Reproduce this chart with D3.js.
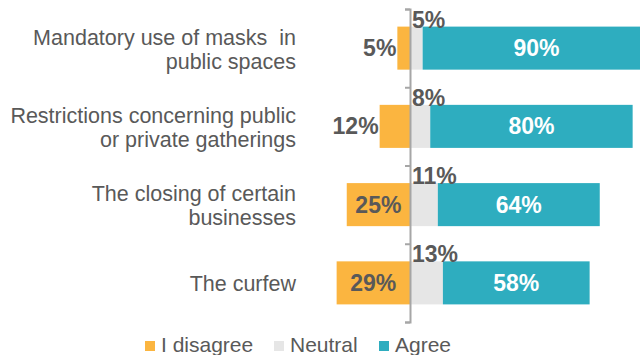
<!DOCTYPE html>
<html>
<head>
<meta charset="utf-8">
<script src="https://cdn.jsdelivr.net/npm/d3@7"></script>
<style>
  html, body { margin: 0; padding: 0; background: #fff; }
  svg { display: block; font-family: "Liberation Sans", Arial, sans-serif; }
  .cat { white-space: pre; }
</style>
</head>
<body>
<svg id="chart" width="640" height="355"></svg>
<script>
// Survey: support for COVID-19 measures
const categories = [
  ["Mandatory use of masks  in", "public spaces"],
  ["Restrictions concerning public", "or private gatherings"],
  ["The closing of certain", "businesses"],
  ["The curfew"]
];
const disagree = [5, 12, 25, 29];
const neutral  = [5, 8, 11, 13];
const agree    = [90, 80, 64, 58];
const legendLabels = ["I disagree", "Neutral", "Agree"];

const colors = { disagree: "#FBB540", neutral: "#E6E6E6", agree: "#2EADBF" };
const textColor = "#595959";

const svg = d3.select("#chart");
const keys = categories.map((c, i) => i);

const y = d3.scaleBand().domain(keys).range([9, 322])
  .paddingInner(0.45).paddingOuter(0.225);
const x = d3.scaleLinear().domain([0, 100]).range([410, 663]);

// Bars
const rows = svg.append("g").selectAll("g").data(keys).join("g");

rows.append("rect")
  .attr("x", i => x(-disagree[i]))
  .attr("y", i => y(i))
  .attr("width", i => x(0) - x(-disagree[i]))
  .attr("height", y.bandwidth())
  .attr("fill", colors.disagree);

rows.append("rect")
  .attr("x", x(0))
  .attr("y", i => y(i))
  .attr("width", i => x(neutral[i]) - x(0))
  .attr("height", y.bandwidth())
  .attr("fill", colors.neutral);

rows.append("rect")
  .attr("x", i => x(neutral[i]))
  .attr("y", i => y(i))
  .attr("width", i => x(neutral[i] + agree[i]) - x(neutral[i]))
  .attr("height", y.bandwidth())
  .attr("fill", colors.agree);

// Axis at zero with ticks at the category boundaries
const edge = d3.scaleLinear().domain([0, categories.length]).range([9, 322]);
svg.append("g")
  .attr("transform", `translate(${x(0)},0)`)
  .call(d3.axisLeft(edge).ticks(categories.length).tickSize(5).tickFormat(""))
  .call(g => g.select(".domain").attr("stroke", "#A6A6A6").attr("stroke-width", 2))
  .call(g => g.selectAll(".tick line").attr("stroke", "#A6A6A6").attr("stroke-width", 2));

// Value labels
const valueFont = { size: 23, weight: "bold" };
rows.append("text")
  .attr("x", i => disagree[i] >= 20 ? (x(-disagree[i]) + x(0)) / 2 : x(-disagree[i]) - 1)
  .attr("y", i => y(i) + y.bandwidth() / 2)
  .attr("dy", "0.35em")
  .attr("text-anchor", i => disagree[i] >= 20 ? "middle" : "end")
  .attr("font-size", valueFont.size).attr("font-weight", valueFont.weight)
  .attr("fill", textColor)
  .text(i => disagree[i] + "%");

rows.append("text")
  .attr("x", x(0) + 2)
  .attr("y", i => y(i) + 1)
  .attr("font-size", valueFont.size).attr("font-weight", valueFont.weight)
  .attr("fill", textColor)
  .text(i => neutral[i] + "%");

rows.append("text")
  .attr("x", i => (x(neutral[i]) + x(neutral[i] + agree[i])) / 2)
  .attr("y", i => y(i) + y.bandwidth() / 2)
  .attr("dy", "0.35em")
  .attr("text-anchor", "middle")
  .attr("font-size", valueFont.size).attr("font-weight", valueFont.weight)
  .attr("fill", "#fff")
  .text(i => agree[i] + "%");

// Category labels
const lineH = 24;
rows.append("text")
  .attr("class", "cat")
  .attr("text-anchor", "end")
  .attr("font-size", 21.5)
  .attr("fill", textColor)
  .each(function(i) {
    const lines = categories[i];
    const cy = y(i) + y.bandwidth() / 2 + 1;
    const top = cy - (lines.length - 1) * lineH / 2;
    d3.select(this).selectAll("tspan").data(lines).join("tspan")
      .attr("x", 296)
      .attr("y", (d, k) => top + k * lineH)
      .attr("dy", "0.35em")
      .text(d => d);
  });

// Legend
const legendX = [145, 274, 379];
const legend = svg.append("g").selectAll("g").data(legendLabels).join("g")
  .attr("transform", (d, k) => `translate(${legendX[k]},341)`);
legend.append("rect")
  .attr("width", 10).attr("height", 10)
  .attr("fill", (d, k) => [colors.disagree, colors.neutral, colors.agree][k]);
legend.append("text")
  .attr("x", 16).attr("y", 10.5)
  .attr("font-size", 21)
  .attr("fill", textColor)
  .text(d => d);
</script>
</body>
</html>
